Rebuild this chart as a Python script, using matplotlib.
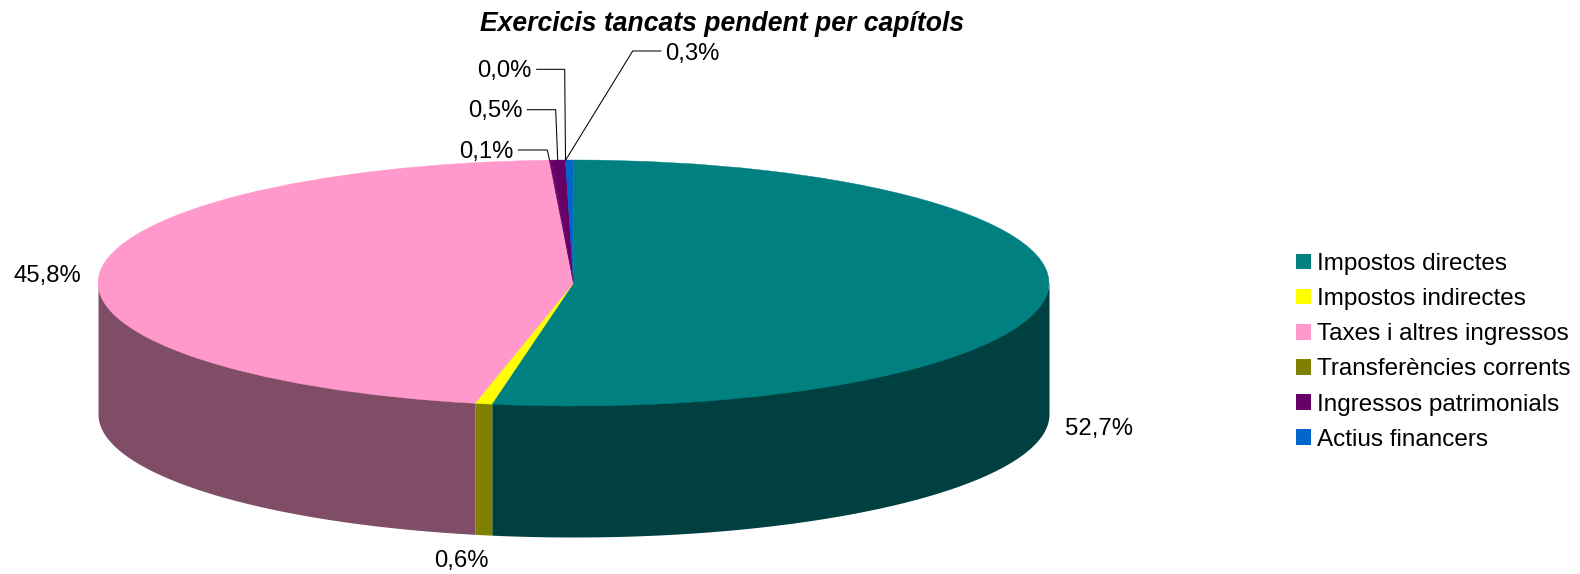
import numpy as np
import matplotlib
matplotlib.use('Agg')
import matplotlib.pyplot as plt
from matplotlib.patches import Patch

plt.rcParams['font.family'] = ['Liberation Sans', 'DejaVu Sans']

# slices, clockwise from the top
values = [52.75, 0.57, 45.87, 0.06, 0.48, 0.0, 0.27]
value_labels = ['52,7%', '0,6%', '45,8%', '0,1%', '0,5%', '0,0%', '0,3%']
top_colors = ['#008080', '#FFFF00', '#FF99CC', '#660066', '#660066', '#660066', '#0066CC']
side_colors = ['#004040', '#808000', '#804D66', '#330033', '#330033', '#330033', '#003366']

legend_names = ['Impostos directes', 'Impostos indirectes', 'Taxes i altres ingressos',
                'Transferències corrents', 'Ingressos patrimonials', 'Actius financers']
legend_colors = ['#008080', '#FFFF00', '#FF99CC', '#808000', '#660066', '#0066CC']

W, H = 1580, 574
cx, cy = 573.5, 283.0   # pie centre, px
rx, ry = 475.5, 123.0   # ellipse radii, px
depth = 131.0 / ry


def fx(x):
    return x / W


def fy(y):
    return 1 - y / H


fig = plt.figure(figsize=(W / 100, H / 100), dpi=100)
ax = fig.add_axes([0, 0, 1, 1])

wedges, _ = ax.pie(values, colors=top_colors, startangle=90, counterclock=False,
                   radius=1, wedgeprops={'linewidth': 0.3})
for w in wedges:
    w.set_edgecolor(w.get_facecolor())
ax.set_aspect('auto')
ax.set_xlim(-cx / rx, (W - cx) / rx)
ax.set_ylim(-(H - cy) / ry, cy / ry)
ax.axis('off')

# front wall of the cake, only the part facing the viewer (90..270 deg from top)
# starts a bit higher than the rim so no white seam shows under the top face
ends = np.cumsum(values) / sum(values) * 360
starts = ends - np.array(values) / sum(values) * 360
for a, b, c in zip(starts, ends, side_colors):
    a, b = max(a, 90), min(b, 270)
    if b <= a:
        continue
    t = np.radians(np.linspace(a, b, 120))
    ax.fill_between(np.sin(t), np.cos(t) + 0.02, np.cos(t) - depth, color=c, linewidth=0, zorder=0.5)

# leader lines of the small slices, px
leaders = [
    [(565.7, 160), (632.7, 51), (661, 51)],
    [(536.7, 69.3), (564.7, 69.3), (565.5, 160)],
    [(527.3, 109.7), (555.7, 109.7), (557.7, 160)],
    [(518.3, 150), (547.3, 150), (549.5, 160)],
]
for pts in leaders:
    xs = [fx(p[0]) for p in pts]
    ys = [fy(p[1]) for p in pts]
    fig.add_artist(plt.Line2D(xs, ys, color='black', lw=0.75))

# label x, baseline y, alignment
label_pos = [(1065, 435, 'left'), (461.5, 566.7, 'center'), (81, 282, 'right'),
             (513.3, 157.7, 'right'), (522.3, 117.5, 'right'), (531.7, 77, 'right'),
             (665, 60, 'left')]
for s, (x, y, ha) in zip(value_labels, label_pos):
    fig.text(fx(x), fy(y), s, fontsize=17.2, ha=ha, va='baseline', color='black')

fig.text(fx(722.5), fy(30.7), 'Exercicis tancats pendent per capítols', fontsize=19.1,
         fontweight='bold', fontstyle='italic', ha='center', va='baseline')

handles = [Patch(color=c, linewidth=0) for c in legend_colors]
ax.legend(handles, legend_names, loc='upper left', bbox_to_anchor=(fx(1296), fy(253)),
          bbox_transform=fig.transFigure, frameon=False, fontsize=17.5,
          borderpad=0, borderaxespad=0, handlelength=0.62, handleheight=0.62,
          handletextpad=0.24, labelspacing=0.54)

fig.savefig('out.png', dpi=100)
